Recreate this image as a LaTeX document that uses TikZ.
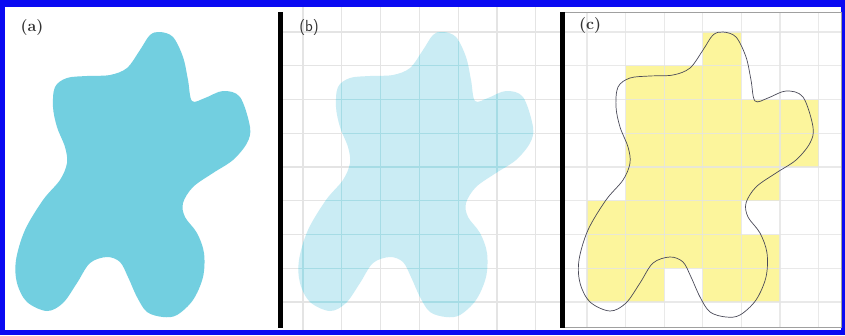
\documentclass[tikz,border=0pt]{standalone}
\usepackage{fontspec}
\usepackage{tikz}
\usepackage{xcolor}
\usetikzlibrary{calc}
\definecolor{frameblue}{HTML}{0A0AF2}
\definecolor{blobcyan}{HTML}{72CFE0}
\definecolor{blobpale}{HTML}{CAECF4}
\definecolor{gridteal}{HTML}{A6DCE5}
\definecolor{gridgray}{HTML}{E4E4E4}
\definecolor{cellyellow}{HTML}{FCF59C}
\definecolor{outlinegray}{HTML}{4A4A58}
\definecolor{boxgray}{HTML}{A0A0A0}
\definecolor{labelink}{HTML}{333333}
\newcommand{\blobshape}{plot[smooth cycle,tension=0.55] coordinates {
  (160,32) (173,37) (183,57) (188,80) (192,101) (205,98) (223,91) (240,97)
  (250,127) (247,143) (233,160) (213,173) (193,187) (183,203) (185,217)
  (197,233) (204,253) (203,277) (193,300) (177,315) (163,317) (147,312)
  (137,297) (128,277) (120,262) (107,257) (90,263) (77,283) (63,303)
  (47,311) (27,302) (17,283) (16,260) (25,230) (43,200) (60,180) (67,163)
  (65,147) (57,127) (53,107) (55,87) (67,78) (87,76) (110,75) (127,68)
  (140,50) (150,35)}}
\tikzset{
  panellabel/.style={font=\fontsize{16}{18}\selectfont\bfseries, text=labelink, inner sep=0pt},
  gridline/.style={line width=1.3pt}
}
\begin{document}
\begin{tikzpicture}[x=1pt,y=-1pt]
  \useasboundingbox (0,0) rectangle (845,335);
  \fill[frameblue] (0,0) rectangle (845,335);
  \fill[white] (5,7) rectangle (841,330);
  % (a)
  \fill[blobcyan] \blobshape;
  \node[panellabel] (lbla) at (32,28) {(a)};
  % (b)
  \foreach \k in {0,...,6}
    \draw[gridline,gridgray] (303+38.8*\k,7) -- (303+38.8*\k,330);
  \foreach \k in {0,...,8}
    \draw[gridline,gridgray] (283,32+33.75*\k) -- (560,32+33.75*\k);
  \begin{scope}[shift={(283,0)}]
    \fill[blobpale] \blobshape;
    \clip \blobshape;
    \foreach \k in {0,...,6}
      \draw[gridline,gridteal] (20+38.8*\k,7) -- (20+38.8*\k,330);
    \foreach \k in {0,...,8}
      \draw[gridline,gridteal] (0,32+33.75*\k) -- (277,32+33.75*\k);
  \end{scope}
  \fill[black] (277.5,12) rectangle (282.5,328);
  \node[panellabel,font=\fontsize{16}{18}\selectfont\sffamily] (lblb) at (309,28) {(b)};
  % (c)
  \foreach \i/\j in {0/3, 1/1,1/2,1/3, 2/1,2/2,2/3,2/4,2/5, 3/1,3/2,3/3,3/4,3/5,
                     4/1,4/2,4/3,4/4, 5/0,5/1,5/2,5/3, 6/0,6/1,6/2,6/3,6/4,
                     7/0,7/1,7/3,7/4}
    \fill[cellyellow] (587+38.6*\j,32+33.75*\i) rectangle ++(38.6,33.75);
  \foreach \k in {0,...,6}
    \draw[gridline,gridgray,opacity=0.8] (587+38.6*\k,12) -- (587+38.6*\k,327);
  \foreach \k in {0,...,8}
    \draw[gridline,gridgray,opacity=0.8] (565,32+33.75*\k) -- (841,32+33.75*\k);
  \draw[boxgray,line width=1pt] (562,12) rectangle (841,327.5);
  \draw[outlinegray,line width=0.7pt,shift={(563,0)}] \blobshape;
  \fill[black] (560,12) rectangle (565,328);
  \node[panellabel] (lblc) at (590,26) {(c)};
\end{tikzpicture}
\end{document}
